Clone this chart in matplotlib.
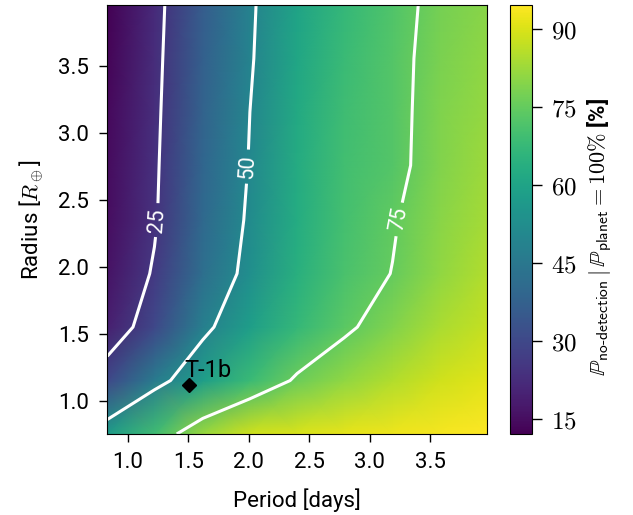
import numpy as np
import matplotlib
matplotlib.use("Agg")
import matplotlib.pyplot as plt

plt.rcParams['mathtext.fontset'] = 'cm'
plt.rcParams['font.family'] = ['Roboto', 'DejaVu Sans']

# grid of periods [days] and radii [R_earth]
periods = [0.83, 1.22, 1.62, 2.01, 2.40, 2.79, 3.19, 3.58, 3.97]
radii = [0.75, 1.15, 1.55, 1.95, 2.35, 2.76, 3.16, 3.56, 3.96]

# probability of no detection [%], one row per radius (ascending)
row_r075 = [57.4, 69.0, 82.0, 88.5, 90.0, 91.5, 92.5, 93.6, 94.6]
row_r115 = [30.0, 46.0, 58.0, 68.0, 76.2, 81.0, 85.0, 88.5, 91.0]
row_r155 = [19.0, 30.0, 47.5, 58.0, 67.0, 73.5, 79.0, 84.0, 87.5]
row_r195 = [16.0, 26.0, 42.0, 53.0, 64.0, 71.0, 75.2, 81.0, 85.0]
row_r235 = [15.0, 24.0, 40.0, 51.5, 63.0, 70.0, 74.3, 80.0, 83.5]
row_r276 = [14.5, 23.5, 39.0, 50.5, 62.5, 69.5, 72.5, 79.0, 82.5]
row_r316 = [14.0, 23.0, 38.0, 50.0, 62.0, 69.0, 72.5, 78.5, 81.5]
row_r356 = [13.0, 22.5, 37.0, 49.0, 61.0, 68.0, 72.5, 78.0, 81.0]
row_r396 = [12.1, 22.0, 36.0, 48.5, 60.0, 67.0, 72.0, 77.5, 80.0]

contour_levels = [25, 50, 75]
cbar_ticks = [15, 30, 45, 60, 75, 90]

planet_name = "T-1b"
planet_period = 1.507
planet_radius = 1.12

Z = np.array([row_r075, row_r115, row_r155, row_r195, row_r235,
              row_r276, row_r316, row_r356, row_r396])
P, R = np.meshgrid(periods, radii)

fig = plt.figure(figsize=(6.33, 5.15), dpi=100)
ax = fig.add_axes([0.1695, 0.1573, 0.5995, 0.8330])
cax = fig.add_axes([0.8057, 0.1573, 0.0343, 0.8330])

mesh = ax.pcolormesh(P, R, Z, shading='gouraud', cmap='viridis',
                     vmin=Z.min(), vmax=Z.max())
cs = ax.contour(P, R, Z, levels=contour_levels, colors='white', linewidths=2.2)
ax.clabel(cs, fmt='%d', inline=True, fontsize=15.5,
          manual=[(1.25, 2.35), (2.0, 2.75), (3.27, 2.35)])

ax.plot([planet_period], [planet_radius], marker='D', color='black',
        markersize=7, linestyle='none')
ax.text(planet_period - 0.04, planet_radius + 0.06, planet_name,
        fontsize=17, color='black', ha='left', va='baseline')

ax.set_xlim(periods[0], periods[-1])
ax.set_ylim(radii[0], radii[-1])
ax.set_xticks([1.0, 1.5, 2.0, 2.5, 3.0, 3.5])
ax.set_yticks([1.0, 1.5, 2.0, 2.5, 3.0, 3.5])
ax.tick_params(labelsize=16, length=6, width=1, pad=7)
ax.set_xlabel('Period [days]', fontsize=16, labelpad=11)
ax.set_ylabel(r'Radius [$R_\oplus$]', fontsize=16, labelpad=9)

cb = fig.colorbar(mesh, cax=cax, ticks=cbar_ticks)
cb.ax.set_yticklabels([r'$%d$' % t for t in cbar_ticks])
cb.ax.tick_params(labelsize=18, length=7, width=1, pad=7)
cb.set_label(r'$\mathbb{P}_{\mathsf{no\text{-}detection}}\,|\,\mathbb{P}_{\mathsf{planet}}=100\%$ [%]',
             fontsize=16, labelpad=6, fontweight='bold')
cb.ax.yaxis.label.set_y(0.46)

fig.savefig('out.png', dpi=100)
